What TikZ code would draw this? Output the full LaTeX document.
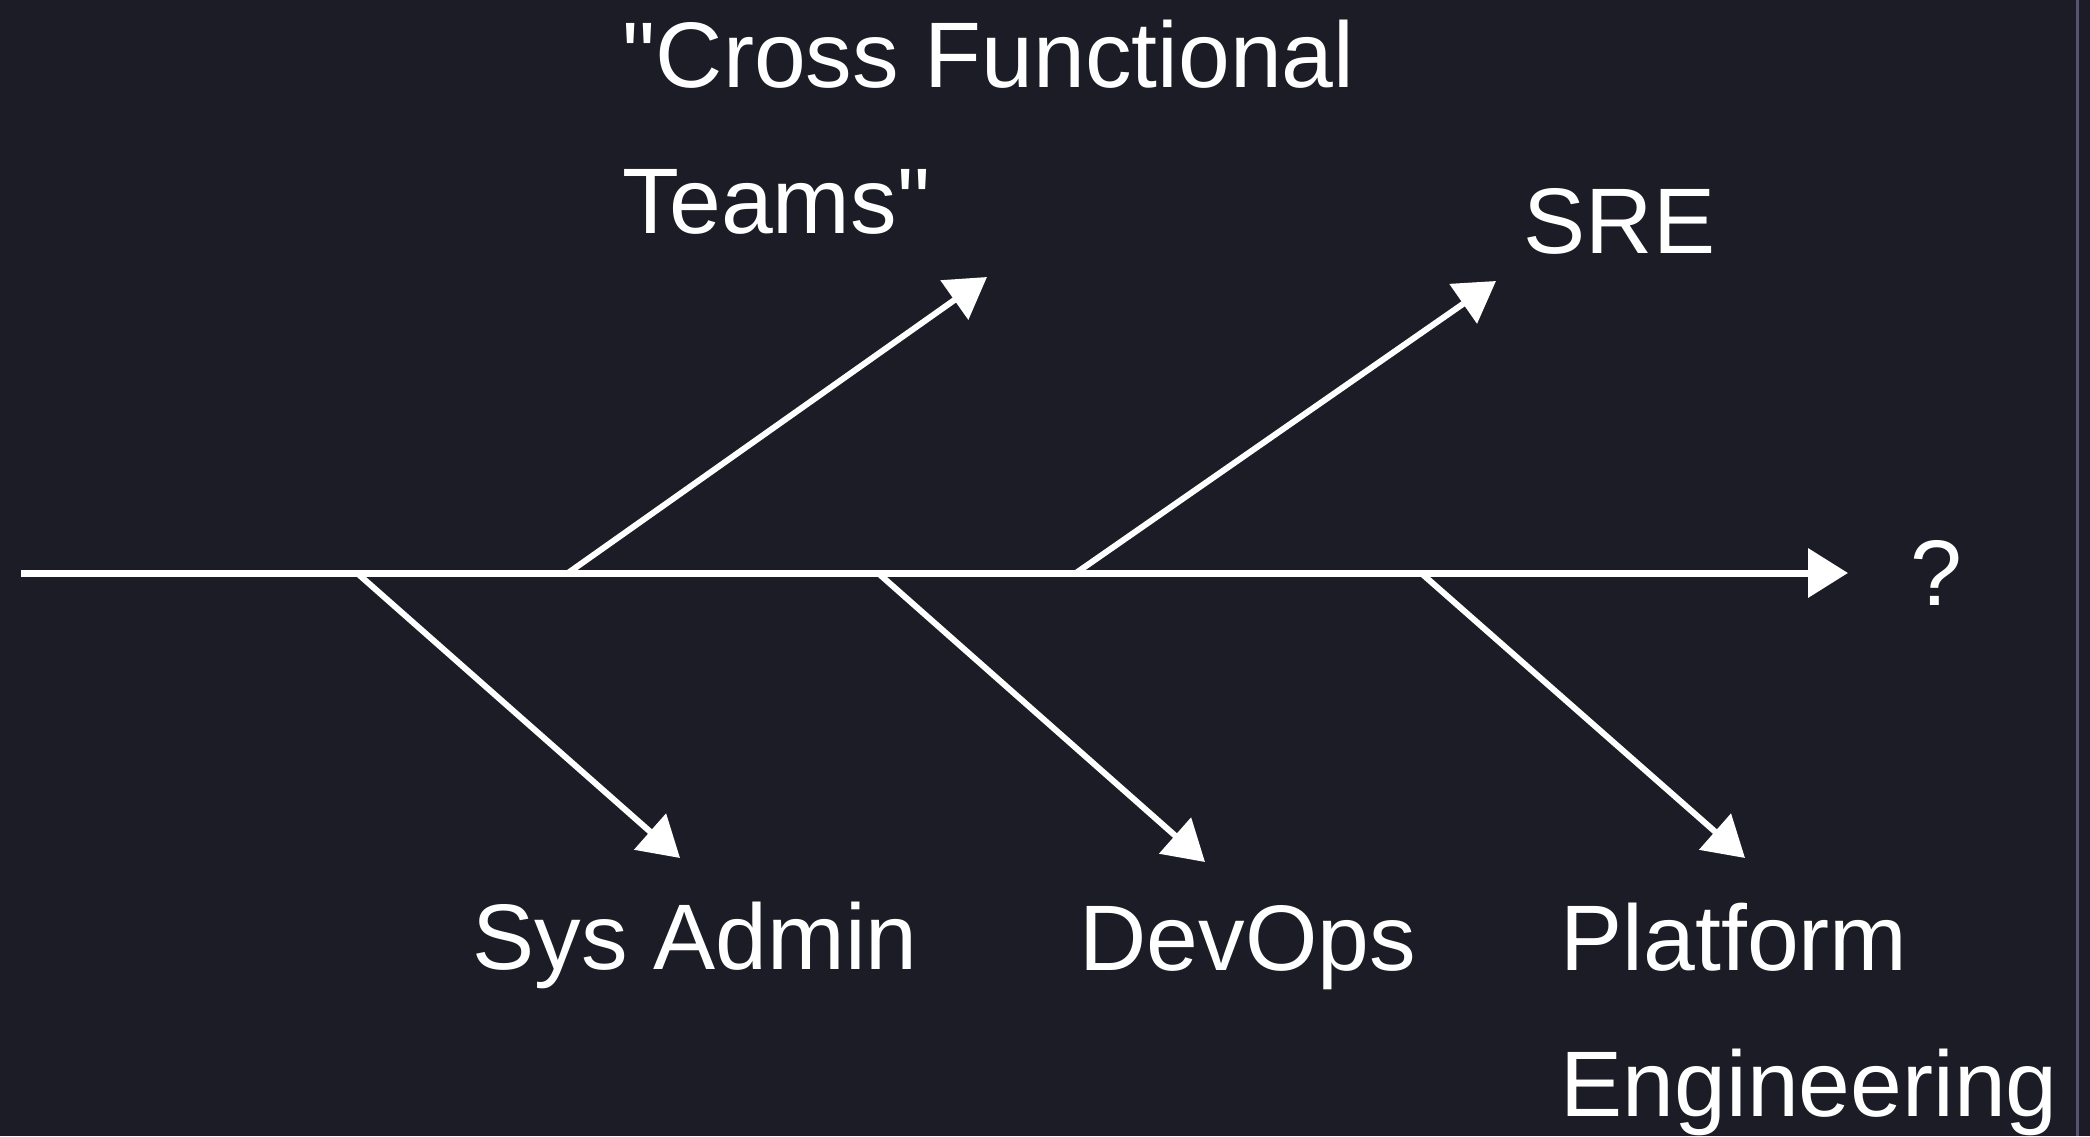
\documentclass[tikz,border=0pt]{standalone}
\usepackage{fontspec}
\setmainfont{Liberation Sans}[Ligatures=TeXOff]
\usepackage{xcolor}
\usetikzlibrary{positioning}
\usetikzlibrary{arrows.meta}
\definecolor{slidebg}{HTML}{1C1C26}
\definecolor{edgegray}{HTML}{55556F}
\tikzset {
  % text labels on the slide
  main/.style = {text=white, font=\fontsize{26.5}{41.3}\selectfont, inner sep=0pt, anchor=base west, align=left},
  % the spine of the fishbone
  spine/.style={draw=white, line width=0.07cm, -{Triangle[length=0.40cm, width=0.48cm]}},
  % bones coming off the spine
  bone/.style={draw=white, line width=0.06cm, -{Triangle[length=0.40cm, width=0.47cm]}},
}

\begin{document}
\begin{tikzpicture}
  \fill[slidebg] (0,0) rectangle (20.90,11.36);
  \useasboundingbox (0,0) rectangle (20.90,11.36);
  \draw[edgegray, line width=0.03cm] (20.775,0) -- (20.775,11.36);

  % spine
  \coordinate (tail) at (0.21,5.63);
  \coordinate (head) at (18.48,5.63);
  \node[main, right=0.62cm of head] (q) {?};
  \draw[spine] (tail) -- (head);

  % labels (base is the last line)
  \node[main] (cft) at (6.22,9.03) {"Cross Functional\\Teams"};
  \node[main] (sre) at (15.23,8.83) {SRE};
  \node[main] (sys) at (4.72,1.67) {Sys Admin};
  \node[main] (devops) at (10.79,1.66) {DevOps};
  \node[main] (plat) at (15.60,0.20) {Platform\\Engineering};

  % bones above the spine
  \coordinate (cftroot) at (5.68,5.63);
  \coordinate (cfttip) at (9.87,8.59);
  \coordinate (sreroot) at (10.76,5.63);
  \coordinate (sretip) at (14.96,8.55);
  \draw[bone] (cftroot) -- (cfttip);
  \draw[bone] (sreroot) -- (sretip);

  % bones below the spine
  \coordinate (sysroot) at (3.57,5.63);
  \coordinate (systip) at (6.80,2.78);
  \coordinate (devopsroot) at (8.78,5.63);
  \coordinate (devopstip) at (12.05,2.74);
  \coordinate (platroot) at (14.21,5.63);
  \coordinate (plattip) at (17.45,2.78);
  \draw[bone] (sysroot) -- (systip);
  \draw[bone] (devopsroot) -- (devopstip);
  \draw[bone] (platroot) -- (plattip);
\end{tikzpicture}
\end{document}
